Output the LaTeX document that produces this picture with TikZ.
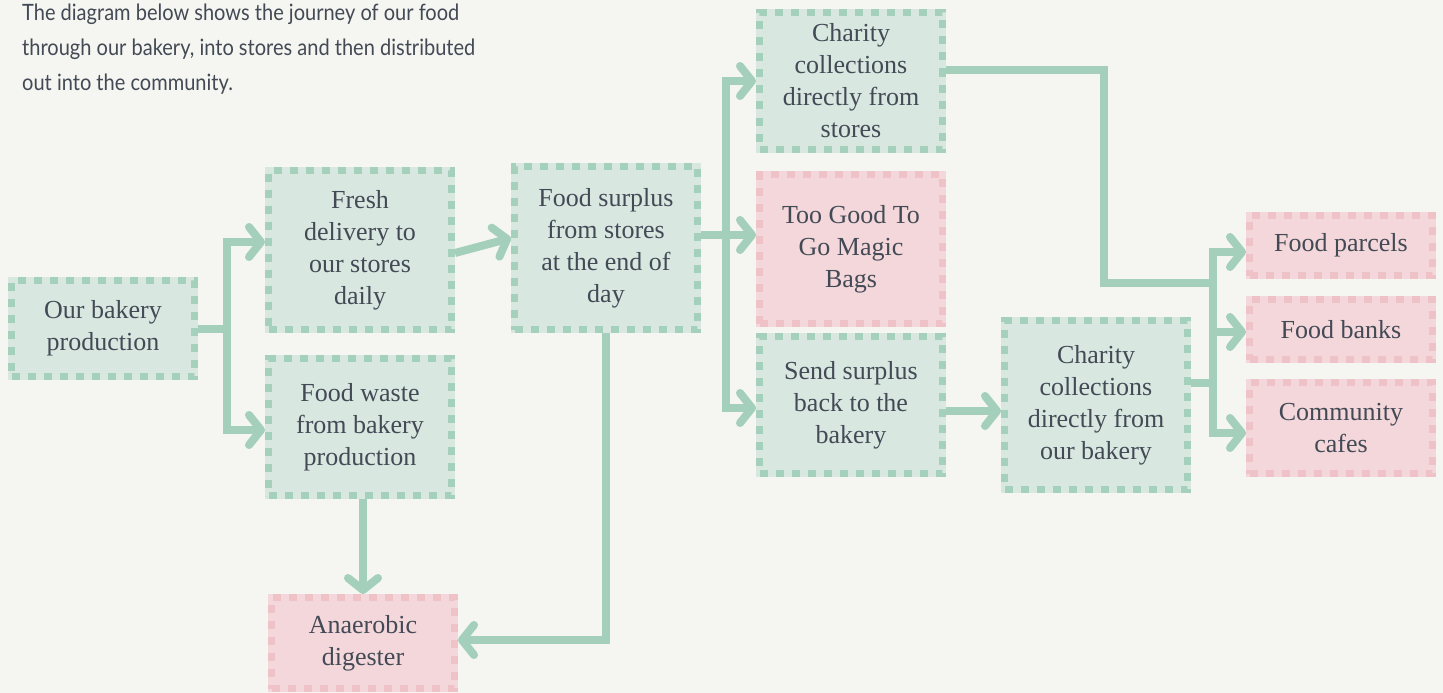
\documentclass[tikz,border=0pt]{standalone}
\usepackage{fontspec}
\setmainfont{Liberation Serif}
\newfontfamily\boxfont{Liberation Serif}
\newfontfamily\introfont[FakeStretch=0.89]{Lato}
\usepackage{xcolor}
\usepackage{tikz}
\usetikzlibrary{positioning, arrows.meta}
\definecolor{paper}{HTML}{F5F6F1}
\definecolor{ink}{HTML}{434A55}
\definecolor{linkgreen}{HTML}{A3CFBB}
\definecolor{greenfill}{HTML}{D8E7E0}
\definecolor{greendash}{HTML}{A5D0BC}
\definecolor{pinkfill}{HTML}{F3D7DA}
\definecolor{pinkdash}{HTML}{EEC2C7}

\begin{document}
\begin{tikzpicture}[x=1pt, y=-1pt,
  box/.style={minimum width=183pt, inner sep=0pt, align=center, text=ink,
    font=\boxfont\fontsize{26}{32}\selectfont, line width=7pt, dash pattern=on 8pt off 8pt},
  greenbox/.style={box, draw=greendash, fill=greenfill, preaction={draw=greenfill, solid}},
  pinkbox/.style={box, draw=pinkdash, fill=pinkfill, preaction={draw=pinkfill, solid}},
  line/.style={draw=linkgreen, line width=8pt},
  link/.style={line, -{Straight Barb[length=12pt, width=30pt, round]}}]
  \useasboundingbox[fill=paper] (0,0) rectangle (1443,693);

  \node (intro) [anchor=north west, inner sep=0pt, align=left, text=ink,
    font=\introfont\fontsize{22.5}{35}\selectfont] at (22,4)
    {The diagram below shows the journey of our food\\
     through our bakery, into stores and then distributed\\
     out into the community.};

  % Bakery and stores
  \node (bakery) [greenbox, minimum height=96pt] at (103,328.5) {Our bakery\\production};
  \node (fresh) [greenbox, minimum height=159pt] at (360,250) {Fresh\\delivery to\\our stores\\daily};
  \node (waste) [greenbox, minimum height=137pt] at (360,427) {Food waste\\from bakery\\production};
  \node (digester) [pinkbox, minimum height=91pt] at (363,643) {Anaerobic\\digester};
  \node (surplus) [greenbox, minimum height=163pt] at (606,248) {Food surplus\\from stores\\at the end of\\day};

  % Surplus routes
  \node (stores) [greenbox, minimum height=137pt] at (851,81) {Charity\\collections\\directly from\\stores};
  \node (toogood) [pinkbox, minimum height=149pt] at (851,249) {Too Good To\\Go Magic\\Bags};
  \node (send) [greenbox, minimum height=137pt] at (851,405) {Send surplus\\back to the\\bakery};
  \node (cbakery) [greenbox, minimum height=169pt] at (1096,405) {Charity\\collections\\directly from\\our bakery};

  % Community
  \node (parcels) [pinkbox, minimum height=60pt] at (1341,245.5) {Food parcels};
  \node (banks) [pinkbox, minimum height=60pt] at (1341,329.5) {Food banks};
  \node (cafes) [pinkbox, minimum height=91pt] at (1341,428) {Community\\cafes};

  \coordinate (split1) at (227,328.5);
  \coordinate (split2) at (726,235);
  \coordinate (drop) at (1104,283);
  \coordinate (split3) at (1213,283);
  \coordinate (split4) at (1213,383);

  % From the bakery
  \draw[line] (bakery.east) -- (split1);
  \draw[link] (split1) |- ([yshift=8pt]fresh.west);
  \draw[link] (split1) |- ([yshift=-3pt]waste.west);
  \draw[link] ([yshift=-3pt]fresh.east) -- ([yshift=10pt]surplus.west);
  \draw[link] (waste.south -| digester.north) -- (digester.north);

  % From the stores
  \draw[link] ([yshift=13pt]surplus.east) -- ([yshift=14pt]toogood.west);
  \draw[link] (split2) |- (stores.west);
  \draw[link] (split2) |- ([yshift=-3pt]send.west);
  \draw[link] (surplus.south) |- ([yshift=3pt]digester.east);
  \draw[link] ([yshift=-6pt]send.east) -- ([yshift=-6pt]cbakery.west);

  % Out to the community
  \draw[line] ([yshift=11pt]stores.east) -| (drop) -- (split3);
  \draw[line] ([yshift=22pt]cbakery.east) -- (split4);
  \draw[link] (split4) |- ([yshift=-6.5pt]parcels.west);
  \draw[link] (split4) -- ([yshift=-2.5pt]banks.west -| split4) -- ([yshift=-2.5pt]banks.west);
  \draw[link] (split4) |- ([yshift=-5pt]cafes.west);
\end{tikzpicture}
\end{document}
